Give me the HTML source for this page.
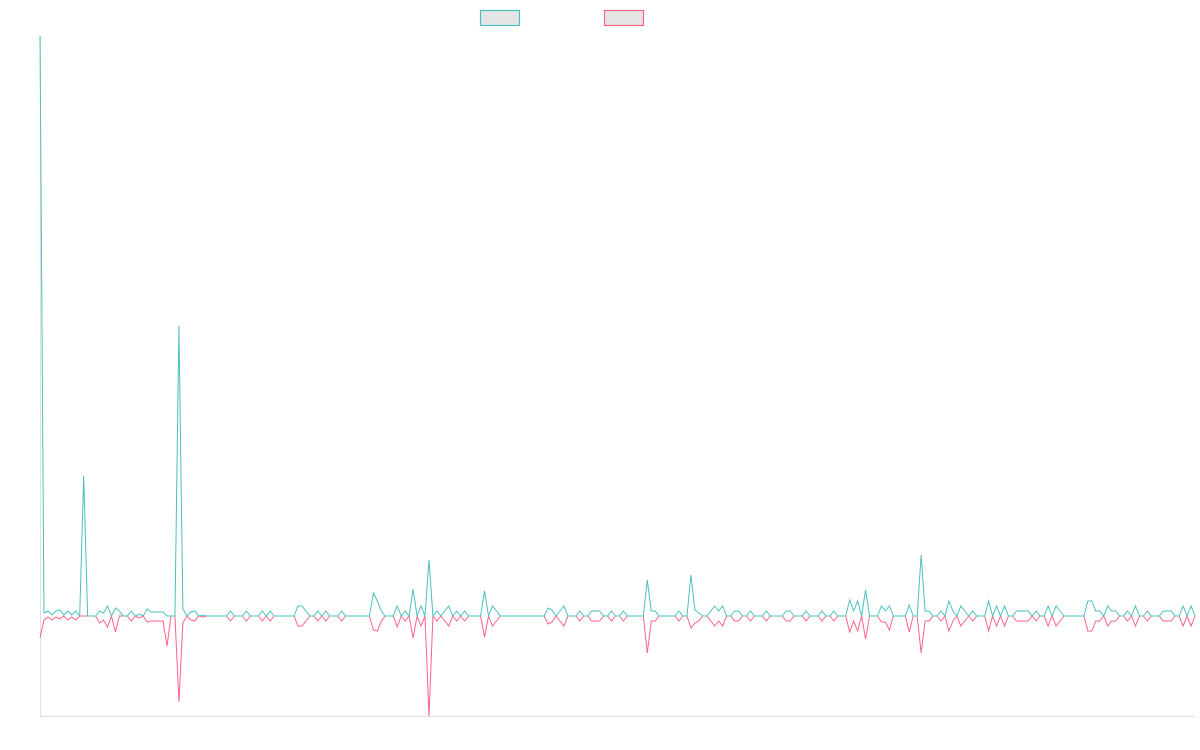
<!DOCTYPE html>
<html><head><meta charset="utf-8"><style>
html,body{margin:0;padding:0;background:#fff;}
svg{display:block;font-family:"Liberation Sans",sans-serif;}
</style></head><body>
<svg id="chart" width="1200" height="750">
  <g>
    <rect x="480.5" y="10.5" width="39" height="15" fill="#e5e5e5" stroke="rgb(75,192,192)" stroke-width="1.2"/>
    <rect x="604.5" y="10.5" width="39" height="15" fill="#e5e5e5" stroke="rgb(255,99,132)" stroke-width="1.2"/>
  </g>
  <line x1="40.5" y1="36" x2="40.5" y2="716.5" stroke="#e0e0e0"/>
  <line x1="40" y1="716.5" x2="1195" y2="716.5" stroke="#e0e0e0"/>
  <g id="series"></g>
</svg>
<script>
const seriesTeal = [
580,3,5,1,5,6,1,5,1,5,
0,140,0,0,0,5,3,10,0,8,
5,0,0,5,0,2,0,7,4,4,
4,4,0,0,0,290,7,0,4,5,
0,1,0,0,0,0,0,0,5,0,
0,0,5,0,0,0,5,0,5,0,
0,0,0,0,0,10,10,5,0,0,
5,0,5,0,0,0,5,0,0,0,
0,0,0,0,23,15,5,0,0,0,
10,0,5,0,27,0,10,0,56,0,
5,0,5,10,0,5,0,5,0,0,
0,0,25,0,10,5,0,0,0,0,
0,0,0,0,0,0,0,0,8,6,
0,5,10,0,0,0,5,0,0,5,
5,5,0,0,5,0,0,5,0,0,
0,0,0,36,5,5,0,0,0,0,
0,5,0,0,41,6,3,0,0,5,
10,5,10,0,0,5,5,0,0,5,
0,0,0,5,0,0,0,0,5,5,
0,0,0,5,0,0,0,5,0,0,
5,0,0,0,16,5,15,0,26,0,
0,0,10,5,10,0,0,0,0,11,
0,0,61,5,5,0,0,5,0,15,
5,0,10,5,0,5,0,0,0,15,
0,10,0,10,0,0,5,5,5,5,
0,5,0,0,10,0,10,5,0,0,
0,0,0,0,15,15,5,5,0,10,
5,5,0,0,5,0,10,0,0,5,
0,0,0,5,5,5,0,0,10,0,
10,0];
const seriesPink = [
-22,-4,-1,-4,-1,-3,0,-4,-1,-4,
0,0,0,0,0,-7,-4,-11,0,-16,
0,0,0,-5,0,-2,0,-6,-5,-5,
-5,-5,-30,0,0,-86,-7,0,-4,-5,
0,-1,0,0,0,0,0,0,-5,0,
0,0,-5,0,0,0,-5,0,-5,0,
0,0,0,0,0,-10,-10,-5,0,0,
-5,0,-5,0,0,0,-5,0,0,0,
0,0,0,0,-14,-15,-5,0,0,0,
-11,0,-5,0,-22,0,-10,0,-100,0,
-5,0,-5,-10,0,-5,0,-5,0,0,
0,0,-21,0,-10,-5,0,0,0,0,
0,0,0,0,0,0,0,0,-8,-6,
0,-5,-10,0,0,0,-5,0,0,-5,
-5,-5,0,0,-5,0,0,-5,0,0,
0,0,0,-37,-5,-5,0,0,0,0,
0,-5,0,0,-12,-7,-5,0,0,-5,
-10,-5,-10,0,0,-5,-5,0,0,-5,
0,0,0,-5,0,0,0,0,-5,-5,
0,0,0,-5,0,0,0,-5,0,0,
-5,0,0,0,-16,-5,-15,0,-23,0,
0,0,-6,-6,-14,0,0,0,0,-16,
0,0,-37,-5,-5,0,0,-5,0,-15,
-5,0,-10,-5,0,-5,0,0,0,-15,
0,-10,0,-10,0,0,-5,-5,-5,-5,
0,-5,0,0,-10,0,-10,-5,0,0,
0,0,0,0,-15,-15,-5,-5,0,-10,
-5,-5,0,0,-5,0,-10,0,0,-5,
0,0,0,-5,-5,-5,0,0,-10,0,
-10,0];
const yDomain = [-100, 580];

const plotLeft = 40, plotRight = 1195, plotTop = 36, plotBottom = 716;
const n = seriesTeal.length;
function xScale(i){ return plotLeft + i * (plotRight - plotLeft) / (n - 1); }
function yScale(v){ return plotBottom - (v - yDomain[0]) / (yDomain[1] - yDomain[0]) * (plotBottom - plotTop); }
const g = document.getElementById('series');
function draw(data, color, name){
  const d = data.map((v,i)=> (i?'L':'M') + xScale(i).toFixed(2) + ' ' + yScale(v).toFixed(2)).join(' ');
  const p = document.createElementNS('http://www.w3.org/2000/svg','path');
  p.setAttribute('d', d);
  p.setAttribute('fill','none');
  p.setAttribute('stroke', color);
  p.setAttribute('stroke-width','1');
  p.setAttribute('stroke-linejoin','miter');
  
  
  g.appendChild(p);
}
draw(seriesPink, 'rgb(255,99,132)', 'pink-series-line');
draw(seriesTeal, 'rgb(75,192,192)', 'teal-series-line');
</script>
</body></html>
